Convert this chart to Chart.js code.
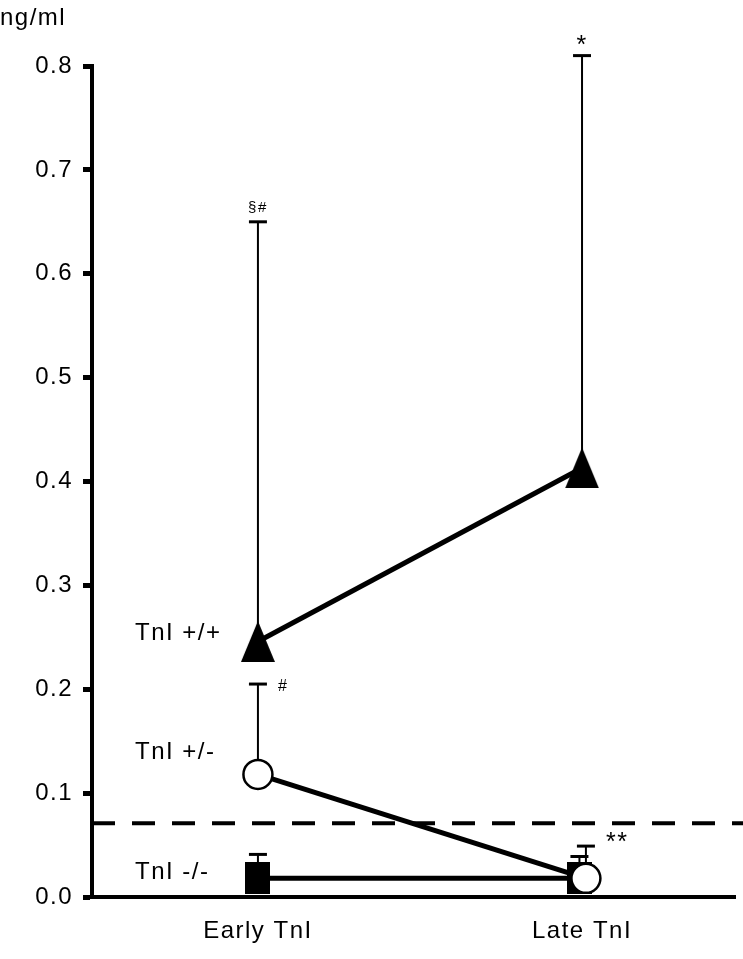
<!DOCTYPE html>
<html><head><meta charset="utf-8">
<script src="https://cdn.jsdelivr.net/npm/chart.js@4/dist/chart.umd.min.js"></script>
<style>html,body{margin:0;padding:0;background:#fff;}#wrap{width:743px;height:959px;position:relative;}</style>
</head><body><div id="wrap"><canvas id="c" width="743" height="959"></canvas></div>
<script>
// ---- data ----
const categories = ['Early TnI', 'Late TnI'];
const seriesNames = ['TnI +/+', 'TnI +/-', 'TnI -/-'];
const tnIPlusPlus = [0.246, 0.413];
const tnIPlusPlusUpper = [0.65, 0.81];
const tnIPlusMinus = [0.118, 0.018];
const tnIPlusMinusUpper = [0.205, 0.049];
const tnIMinusMinus = [0.018, 0.018];
const tnIMinusMinusUpper = [0.041, 0.039];
const cutoffValue = 0.071;
const yTickValues = [0, 0.1, 0.2, 0.3, 0.4, 0.5, 0.6, 0.7, 0.8];
const yAxisUnit = 'ng/ml';
const annotationTexts = ['§#', '*', '#', '**'];
const annotationSeries = [0, 0, 1, 1];
const annotationIndex = [0, 1, 0, 1];

// ---- styles ----
const FONT = '"Liberation Sans", Arial, Helvetica, sans-serif';
Chart.defaults.font.family = FONT;
Chart.defaults.color = '#000';
const lateJitter = [0, 0.012, -0.008];
const labelDy = [-1, -15, 1];
const annStyle = [
  {size: 15, align: 'center', dx: 0, dy: -10},
  {size: 25, align: 'center', dx: 0, dy: -3},
  {size: 16, align: 'left', dx: 20, dy: 7},
  {size: 25, align: 'left', dx: 20, dy: 4}
];

function makeTriangle(w, h) {
  const c = document.createElement('canvas'); c.width = w; c.height = h;
  const g = c.getContext('2d'); g.fillStyle = '#000';
  g.beginPath(); g.moveTo(w / 2, 0); g.lineTo(w, h); g.lineTo(0, h); g.closePath(); g.fill();
  return c;
}
function makeRect(w, h) {
  const c = document.createElement('canvas'); c.width = w; c.height = h;
  const g = c.getContext('2d'); g.fillStyle = '#000'; g.fillRect(0, 0, w, h);
  return c;
}
const triImg = makeTriangle(34, 41);
const rectImg = makeRect(25, 32);

const means = [tnIPlusPlus, tnIPlusMinus, tnIMinusMinus];
const uppers = [tnIPlusPlusUpper, tnIPlusMinusUpper, tnIMinusMinusUpper];
function pts(s) { return means[s].map((v, i) => ({x: i + (i === 1 ? lateJitter[s] : 0), y: v})); }

const errorBars = {
  id: 'errorBars',
  beforeDraw(chart) { chart.ctx.letterSpacing = '1.5px'; },
  beforeDatasetsDraw(chart) {
    const {ctx, chartArea, scales: {x, y}} = chart;
    ctx.save();
    const yc = y.getPixelForValue(cutoffValue);
    ctx.strokeStyle = '#000'; ctx.lineWidth = 4; ctx.setLineDash([23, 17]);
    ctx.beginPath(); ctx.moveTo(chartArea.left, yc); ctx.lineTo(chart.width, yc); ctx.stroke();
    ctx.setLineDash([]);
    for (let s = 0; s < 3; s++) {
      const p = pts(s);
      p.forEach((pt, i) => {
        const px = x.getPixelForValue(pt.x);
        const py = y.getPixelForValue(pt.y);
        const pu = y.getPixelForValue(uppers[s][i]);
        ctx.lineWidth = 2;
        ctx.beginPath(); ctx.moveTo(px, py); ctx.lineTo(px, pu); ctx.stroke();
        ctx.lineWidth = 3;
        ctx.beginPath(); ctx.moveTo(px - 9, pu); ctx.lineTo(px + 9, pu); ctx.stroke();
      });
    }
    ctx.restore();
  },
  afterDraw(chart) {
    const {ctx, chartArea, scales: {x, y}} = chart;
    ctx.save();
    ctx.fillStyle = '#000';
    ctx.textBaseline = 'alphabetic';
    ctx.font = '24px ' + FONT; ctx.textAlign = 'left';
    ctx.fillText(yAxisUnit, 0, 25);
    seriesNames.forEach((n, s) => {
      ctx.fillText(n, chartArea.left + 43, y.getPixelForValue(means[s][0]) + labelDy[s]);
    });
    annotationTexts.forEach((t, k) => {
      const s = annotationSeries[k], i = annotationIndex[k], st = annStyle[k];
      const px = x.getPixelForValue(pts(s)[i].x);
      const pu = y.getPixelForValue(uppers[s][i]);
      ctx.font = st.size + 'px ' + FONT; ctx.textAlign = st.align;
      ctx.fillText(t, px + st.dx, pu + st.dy);
    });
    ctx.restore();
  }
};

new Chart(document.getElementById('c'), {
  type: 'line',
  data: {
    datasets: [
      {label: seriesNames[1], data: pts(1), order: 1, borderColor: '#000', borderWidth: 5,
       pointStyle: 'circle', pointRadius: 14.5, pointBorderWidth: 2.5, pointBackgroundColor: '#fff', pointBorderColor: '#000'},
      {label: seriesNames[0], data: pts(0), order: 2, borderColor: '#000', borderWidth: 5,
       pointStyle: triImg, pointRadius: 20},
      {label: seriesNames[2], data: pts(2), order: 3, borderColor: '#000', borderWidth: 5,
       pointStyle: rectImg, pointRadius: 16}
    ]
  },
  options: {
    responsive: false, animation: false, clip: false,
    layout: {autoPadding: false, padding: {top: 66, right: 8, left: 0, bottom: 0}},
    plugins: {legend: {display: false}, tooltip: {enabled: false}},
    scales: {
      x: {
        type: 'linear', min: -0.512, max: 1.472,
        afterBuildTicks(a) { a.ticks = categories.map((c, i) => ({value: i})); },
        afterFit(a) { a.height = 62; },
        ticks: {font: {size: 24}, padding: 20, callback: v => categories[v], maxRotation: 0, autoSkip: false},
        grid: {display: false, drawTicks: false},
        border: {display: true, width: 4, color: '#000'}
      },
      y: {
        min: 0, max: 0.8,
        afterBuildTicks(a) { a.ticks = yTickValues.map(v => ({value: v})); },
        afterFit(a) { a.width = 92; },
        ticks: {font: {size: 24}, padding: 10, callback: v => v.toFixed(1)},
        grid: {drawOnChartArea: false, drawTicks: true, tickLength: 9, tickWidth: 5, color: '#000'},
        border: {display: true, width: 4, color: '#000'}
      }
    }
  },
  plugins: [errorBars]
});
</script></body></html>
